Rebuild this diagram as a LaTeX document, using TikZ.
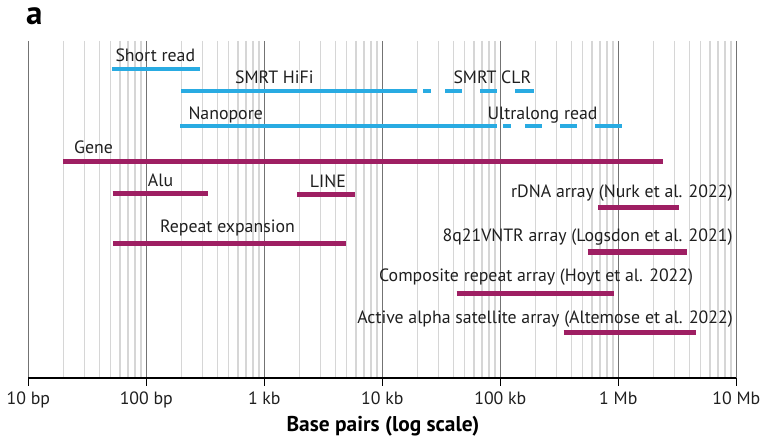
\documentclass[tikz,border=0pt]{standalone}
\usepackage{fontspec}
\setmainfont{PT Sans}
\definecolor{readblue}{HTML}{29ABE2}
\definecolor{repplum}{HTML}{9E1F63}
\begin{document}
\begin{tikzpicture}[x=1pt,y=-1pt,
  minorline/.style={draw=black!16, line width=1.3pt},
  majorline/.style={draw=black!55, line width=0.9pt},
  readbar/.style={draw=readblue, line width=4pt},
  readdash/.style={readbar, dash pattern=on 0pt off 6pt on 8pt off 14pt on 17pt off 18pt on 17pt off 18pt on 40pt off 0pt},
  repbar/.style={draw=repplum, line width=5.5pt},
  lbl/.style={font=\fontsize{17.8}{20}\selectfont, inner sep=0pt, text=black!88},
  ticklbl/.style={lbl, anchor=base}]
\useasboundingbox (0,0) rectangle (761,438);
\foreach \d in {0,...,5}
  \foreach \m in {2,...,9}
    \draw[minorline] ({28.3+118*(\d+ln(\m)/ln(10))},41) -- ++(0,337);
\foreach \d in {0,...,6}
  \draw[majorline] ({28.3+118*\d},41) -- ++(0,337);
\node[font=\bfseries\fontsize{33}{33}\selectfont, anchor=base west, inner sep=0pt] (panel) at (26,25){a};
\coordinate (ax0) at (28.3,378);
\coordinate (ax1) at (736.3,378);
\draw[line width=2.8pt] (ax0) -- (ax1);
\foreach \d/\t in {0/10 bp,1/100 bp,2/1 kb,3/10 kb,4/100 kb,5/1 Mb,6/10 Mb}{
  \draw[line width=1.6pt] ({28.3+118*\d},378) -- ++(0,8);
  \node[ticklbl] (tick\d) at ({28.3+118*\d},405){\t};
}
\node[font=\bfseries\fontsize{21.4}{23}\selectfont, anchor=base, inner sep=0pt] (xtitle) at (383,431.7){Base pairs (log scale)};
\coordinate (sr0) at (112,69.3);
\coordinate (sr1) at (200.3,69.3);
\draw[readbar] (sr0) -- (sr1);
\node[lbl, anchor=base west] (srlbl) at (115.3,61.7){Short read};
\coordinate (hifi0) at (181.3,90.7);
\coordinate (hifi1) at (417.3,90.7);
\coordinate (clr1) at (534,90.7);
\draw[readbar] (hifi0) -- (hifi1);
\draw[readdash] (hifi1) -- (clr1);
\node[lbl, anchor=base west] (hifilbl) at (235,84){SMRT HiFi};
\node[lbl, anchor=base west] (clrlbl) at (453.3,84){SMRT CLR};
\coordinate (nano0) at (180,126);
\coordinate (nano1) at (497.3,126);
\coordinate (ul1) at (621.7,126);
\draw[readbar] (nano0) -- (nano1);
\draw[readdash] (nano1) -- (ul1);
\node[lbl, anchor=base west] (nanolbl) at (188.3,119.3){Nanopore};
\node[lbl, anchor=base west] (ullbl) at (487.3,119.3){Ultralong read};
\coordinate (gene0) at (63.3,161.3);
\coordinate (gene1) at (663.3,161.3);
\draw[repbar] (gene0) -- (gene1);
\node[lbl, anchor=base west] (genelbl) at (74,153.3){Gene};
\coordinate (alu0) at (112.7,193.7);
\coordinate (alu1) at (208.3,193.7);
\draw[repbar] (alu0) -- (alu1);
\node[lbl, anchor=base west] (alulbl) at (147.7,186.5){Alu};
\coordinate (line0) at (297,194.3);
\coordinate (line1) at (355.3,194.3);
\draw[repbar] (line0) -- (line1);
\node[lbl, anchor=base west] (linelbl) at (309.7,187.5){LINE};
\coordinate (rdna0) at (598.3,207.7);
\coordinate (rdna1) at (679,207.7);
\draw[repbar] (rdna0) -- (rdna1);
\node[lbl, anchor=base east] (rdnalbl) at (732.7,197.3){rDNA array (Nurk et al. 2022)};
\coordinate (rep0) at (113.3,243.3);
\coordinate (rep1) at (345.7,243.3);
\draw[repbar] (rep0) -- (rep1);
\node[lbl, anchor=base west] (replbl) at (160,232.7){Repeat expansion};
\coordinate (vntr0) at (587.7,252);
\coordinate (vntr1) at (686.7,252);
\draw[repbar] (vntr0) -- (vntr1);
\node[lbl, anchor=base east] (vntrlbl) at (732.7,241.7){8q21VNTR array (Logsdon et al. 2021)};
\coordinate (comp0) at (456.7,293.7);
\coordinate (comp1) at (614,293.7);
\draw[repbar] (comp0) -- (comp1);
\node[lbl, anchor=base east] (complbl) at (693.3,282){Composite repeat array (Hoyt et al. 2022)};
\coordinate (alpha0) at (563.7,332.7);
\coordinate (alpha1) at (695.7,332.7);
\draw[repbar] (alpha0) -- (alpha1);
\node[lbl, anchor=base east] (alphalbl) at (733,323.3){Active alpha satellite array (Altemose et al. 2022)};
\end{tikzpicture}
\end{document}
